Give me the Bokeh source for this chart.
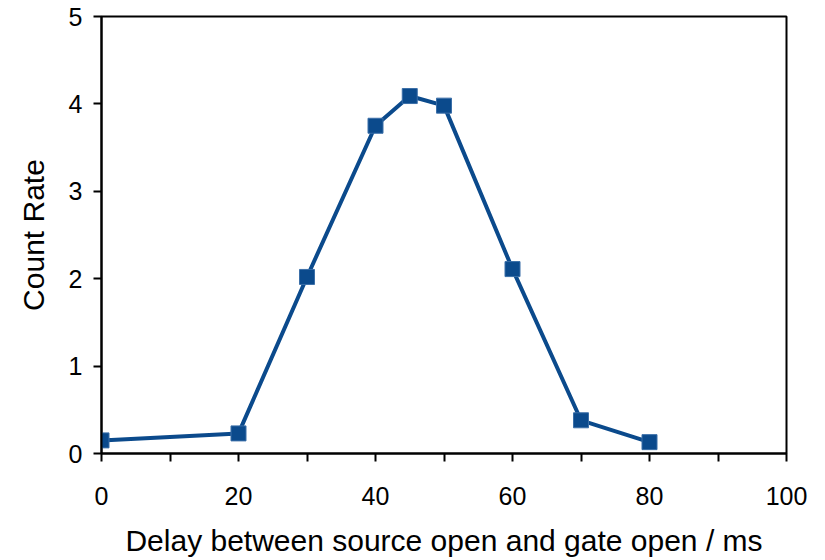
from bokeh.plotting import figure
from bokeh.models import FixedTicker, Range1d
from bokeh.embed import file_html
from bokeh.resources import INLINE

delay_ms = [0, 20, 30, 40, 45, 50, 60, 70, 80]
count_rate = [0.15, 0.23, 2.02, 3.75, 4.09, 3.98, 2.11, 0.38, 0.13]
x_ticks = [0, 20, 40, 60, 80, 100]
x_minor = [10, 30, 50, 70, 90]
y_ticks = [0, 1, 2, 3, 4, 5]

color = "#0b4a8c"
font = "Liberation Sans"

p = figure(width=815, height=560, output_backend="svg", toolbar_location=None,
           x_range=Range1d(0, 100), y_range=Range1d(0, 5),
           min_border_left=101, min_border_right=29, min_border_top=16, min_border_bottom=107)

p.line(delay_ms, count_rate, line_color=color, line_width=4)
p.scatter(delay_ms, count_rate, marker="square", size=15, fill_color=color,
          line_color="#3b6fa8", line_width=1)

p.xgrid.visible = False
p.ygrid.visible = False
p.outline_line_color = "black"
p.outline_line_width = 2
p.outline_line_alpha = 1

p.xaxis.ticker = FixedTicker(ticks=x_ticks, minor_ticks=x_minor)
p.yaxis.ticker = FixedTicker(ticks=y_ticks, minor_ticks=[])

for ax in (p.xaxis, p.yaxis):
    ax.axis_line_width = 2
    ax.axis_line_color = "black"
    ax.major_tick_line_width = 2
    ax.major_tick_line_color = "black"
    ax.major_tick_in = 0
    ax.major_tick_out = 8
    ax.major_label_text_font = font
    ax.major_label_text_font_size = "25px"
    ax.major_label_text_color = "black"
    ax.axis_label_text_font = font
    ax.axis_label_text_font_size = "30px"
    ax.axis_label_text_font_style = "normal"
    ax.axis_label_text_color = "black"

p.xaxis.minor_tick_line_width = 2
p.xaxis.minor_tick_line_color = "black"
p.xaxis.minor_tick_in = 0
p.xaxis.minor_tick_out = 8
p.yaxis.minor_tick_line_color = None

p.xaxis.major_label_standoff = 25
p.xaxis.axis_label_standoff = 16
p.yaxis.major_label_standoff = 11
p.yaxis.axis_label_standoff = 16

p.xaxis.axis_label = "Delay between source open and gate open / ms"
p.yaxis.axis_label = "Count Rate"

open("out.html", "w").write(file_html(p, INLINE))
